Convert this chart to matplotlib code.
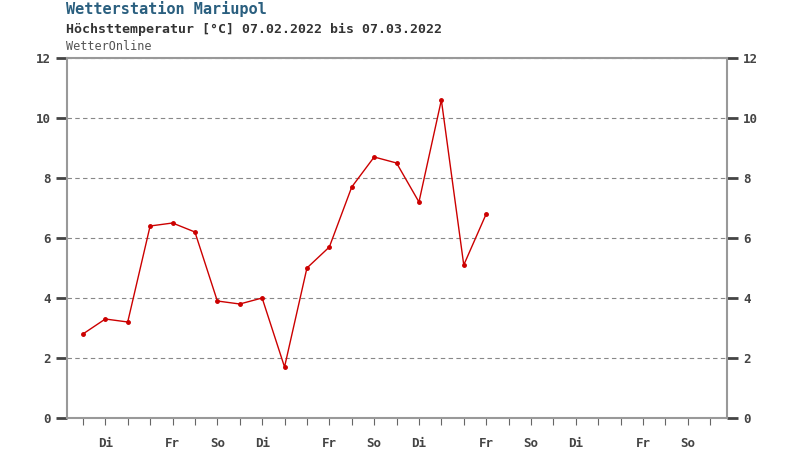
import matplotlib.pyplot as plt

temps = [2.8, 3.3, 3.2, 6.4, 6.5, 6.2, 3.9, 3.8, 4.0, 1.7, 5.0, 5.7, 7.7, 8.7, 8.5, 7.2, 10.6, 5.1, 6.8]
day_labels = ['Di', 'Fr', 'So', 'Di', 'Fr', 'So', 'Di', 'Fr', 'So', 'Di', 'Fr', 'So']
label_pos = [1, 4, 6, 8, 11, 13, 15, 18, 20, 22, 25, 27]

plt.rcParams['font.family'] = 'DejaVu Sans Mono'
fig = plt.figure(figsize=(8, 4.49), dpi=100)
ax = fig.add_axes([67/800, 31/449, 660/800, 360/449])

ax.plot(range(len(temps)), temps, color='#cc0000', lw=1, marker='o', ms=2.5)
ax.set_xlim(-0.71, 28.75)
ax.set_ylim(0, 12)
ax.set_yticks(range(0, 13, 2))
ax.grid(axis='y', color='#888888', ls=(0, (4, 3)), lw=0.8)
for s in ax.spines.values():
    s.set_color('#999999')
    s.set_linewidth(1.5)

lab_map = dict(zip(label_pos, day_labels))
ax.set_xticks(range(0, 29))
ax.set_xticklabels([lab_map.get(i, '') for i in range(0, 29)], fontsize=9,
                   fontweight='bold', color='#444444')
ax.tick_params(axis='x', length=5, color='#666666', pad=9)
ax.tick_params(axis='y', labelsize=9, colors='#444444', length=8, width=2, right=True, labelright=True)
for lab in ax.get_yticklabels():
    lab.set_fontweight('bold')

fig.text(66/800, 1 - 9/449, 'Wetterstation Mariupol', fontsize=11, fontweight='bold', color='#2a5f7f', va='center')
fig.text(66/800, 1 - 29/449, 'Höchsttemperatur [°C] 07.02.2022 bis 07.03.2022', fontsize=9.5, fontweight='bold', color='#333333', va='center')
fig.text(66/800, 1 - 46/449, 'WetterOnline', fontsize=8.5, color='#555555', va='center')

fig.savefig('out.png', dpi=100)
